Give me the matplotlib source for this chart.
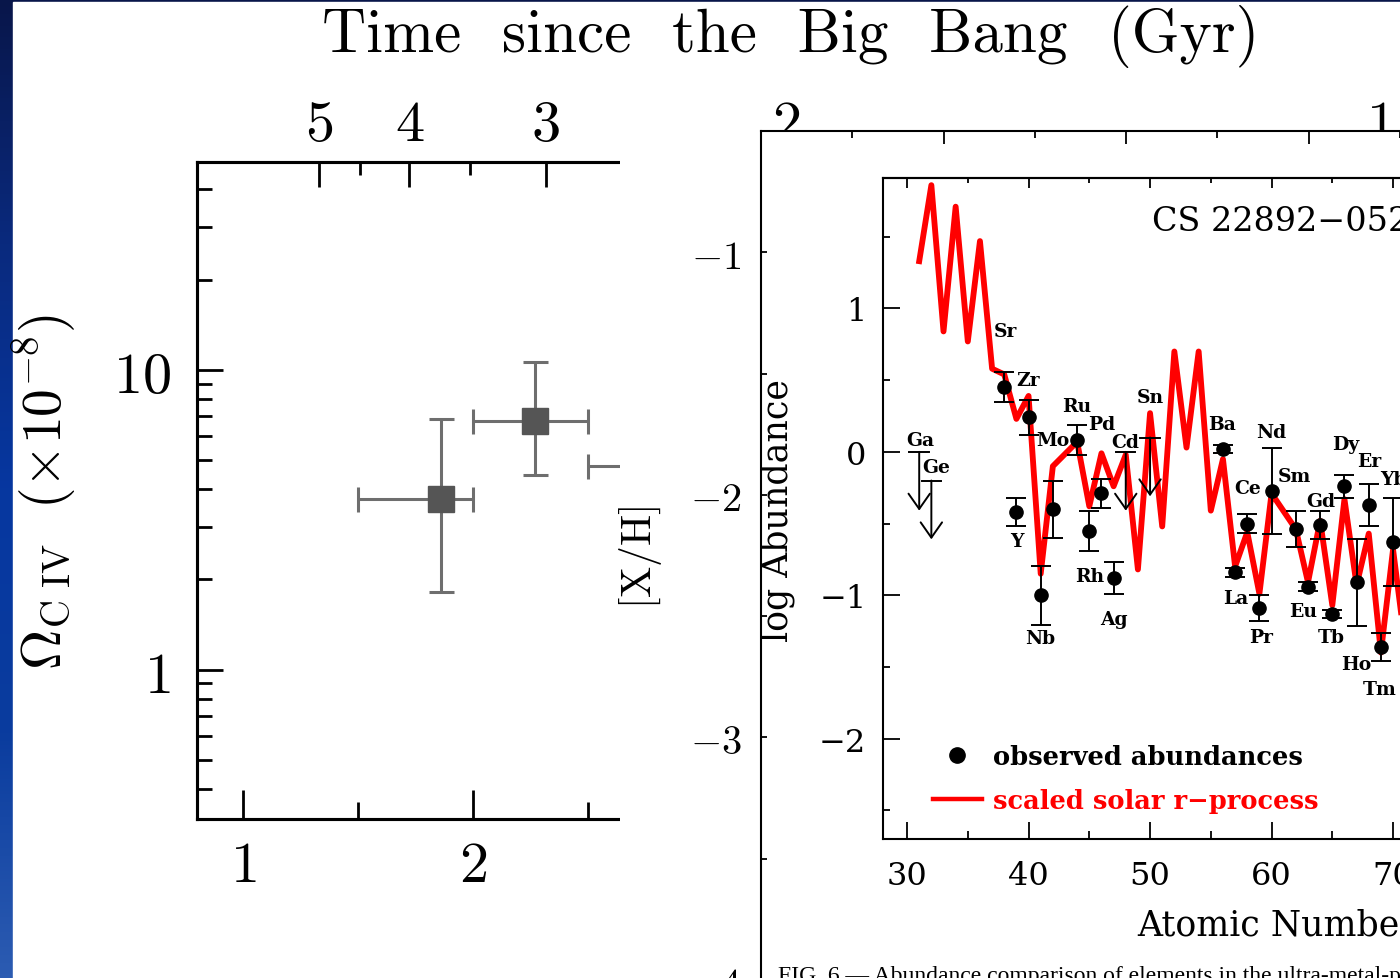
import numpy as np
import matplotlib
matplotlib.use("Agg")
import matplotlib.pyplot as plt
from matplotlib.colors import LinearSegmentedColormap
from matplotlib.lines import Line2D
from matplotlib.patches import Rectangle
from matplotlib.ticker import FixedLocator, MultipleLocator, LogLocator, NullFormatter

plt.rcParams['mathtext.fontset'] = 'cm'
plt.rcParams['axes.unicode_minus'] = True

W, H = 1400, 979

# --- C IV mass density in redshift bins ---
civ_z = [1.86, 2.27, 2.80]
civ_z_lo = [1.50, 2.00, 2.50]
civ_z_hi = [2.00, 2.50, 3.10]
civ_omega = [3.72, 6.76, 4.79]
civ_omega_lo = [1.81, 4.47, 3.00]
civ_omega_hi = [6.87, 10.6, 7.40]

z_ticks = [1, 2]
age_ticks = [5, 4, 3, 2, 1]
age_minor = [4.5, 3.5, 2.5, 1.5]

# --- CS 22892-052 abundances ---
solar_Z = [31, 32, 33, 34, 35, 36, 37, 38, 39, 40, 41, 42, 44, 45, 46, 47, 48, 49,
           50, 51, 52, 53, 54, 55, 56, 57, 58, 59, 60, 62, 63, 64, 65, 66, 67, 68,
           69, 70, 71, 72]
solar_val = [1.33, 1.86, 0.84, 1.71, 0.77, 1.47, 0.58, 0.54, 0.23, 0.39, -0.85, -0.10,
             0.07, -0.38, -0.01, -0.24, -0.02, -0.82, 0.27, -0.52, 0.70, 0.03, 0.70,
             -0.41, -0.05, -0.80, -0.56, -0.99, -0.29, -0.54, -0.91, -0.48, -1.07,
             -0.33, -0.93, -0.57, -1.40, -0.68, -1.35, -0.85]

obs_el = ['Sr', 'Y', 'Zr', 'Nb', 'Mo', 'Ru', 'Rh', 'Pd', 'Ag', 'Ba', 'La', 'Ce', 'Pr',
          'Nd', 'Sm', 'Eu', 'Gd', 'Tb', 'Dy', 'Ho', 'Er', 'Tm', 'Yb']
obs_Z = [38, 39, 40, 41, 42, 44, 45, 46, 47, 56, 57, 58, 59, 60, 62, 63, 64, 65, 66,
         67, 68, 69, 70]
obs_val = [0.45, -0.42, 0.24, -1.00, -0.40, 0.085, -0.55, -0.29, -0.88, 0.02, -0.84,
           -0.50, -1.09, -0.27, -0.54, -0.94, -0.51, -1.13, -0.24, -0.91, -0.37,
           -1.36, -0.63]
obs_err = [0.105, 0.10, 0.125, 0.205, 0.20, 0.105, 0.14, 0.10, 0.11, 0.03, 0.03, 0.065,
           0.09, 0.30, 0.125, 0.03, 0.095, 0.03, 0.08, 0.305, 0.145, 0.10, 0.305]

lim_el = ['Ga', 'Ge', 'Cd', 'Sn']
lim_Z = [31, 32, 48, 50]
lim_val = [0.0, -0.20, 0.0, 0.10]
lim_drop = 0.41

# label offsets in pixels (right, up) from each point
label_offsets = {
    'Ga': (1, 12), 'Ge': (5, 14), 'Cd': (-1, 10), 'Sn': (0, 41),
    'Sr': (1, 56), 'Y': (0, -29), 'Zr': (0, 37), 'Nb': (-1, -43), 'Mo': (0, 69),
    'Ru': (0, 34), 'Rh': (0, -45), 'Pd': (0, 69), 'Ag': (0, -41), 'Ba': (-1, 25),
    'La': (1, -26), 'Ce': (0, 36), 'Pr': (2, -29), 'Nd': (0, 59), 'Sm': (-1, 53),
    'Eu': (-5, -24), 'Gd': (1, 24), 'Tb': (-1, -23), 'Dy': (1, 42), 'Ho': (0, -82),
    'Er': (0, 44), 'Tm': (-1, -42), 'Yb': (0, 63),
}

# flat LCDM, H0 = 65, Om = 0.3
H0, Om, OL = 65.0, 0.3, 0.7
T_L = 977.8 / H0 * 2.0 / (3.0 * np.sqrt(OL))


def age_of_z(z):
    return T_L * np.arcsinh(np.sqrt(OL / Om) * (1.0 + np.asarray(z)) ** -1.5)


def z_of_age(t):
    return (np.sinh(np.asarray(t, float) / T_L) / np.sqrt(OL / Om)) ** (-2.0 / 3.0) - 1.0


def px_box(x0, y0, x1, y1):
    return [x0 / W, 1 - y1 / H, (x1 - x0) / W, (y1 - y0) / H]


def mt(v):
    return r'$%s$' % ('-%g' % -v if v < 0 else '%g' % v)


fig = plt.figure(figsize=(W / 100, H / 100), dpi=100)

# slide background: blue gradient strip with white page
bg = fig.add_axes([0, 0, 1, 1], zorder=-10)
bg.axis('off')
slide = LinearSegmentedColormap.from_list(
    'slide', ['#08164a', '#0a2a7e', '#0637a0', '#0a3c9e', '#2c5cb2'])
bg.imshow(np.linspace(0, 1, 256)[:, None], aspect='auto', cmap=slide,
          extent=[0, 1, 0, 1])
bg.add_patch(Rectangle((13 / W, 0), 1, 1 - 3 / H, color='white',
                       transform=bg.transAxes))
bg.set_xlim(0, 1)
bg.set_ylim(0, 1)

# ---------------- left panel: Omega_CIV vs redshift ----------------
ax = fig.add_axes(px_box(197, 163, 1400, 820), zorder=1)
ax.patch.set_visible(False)
ax.set_yscale('log')
ax.set_xlim(0.8, 6.03)
ax.set_ylim(0.318, 49.3)

zc = np.array(civ_z)
oc = np.array(civ_omega)
ax.errorbar(zc, oc,
            xerr=[zc - np.array(civ_z_lo), np.array(civ_z_hi) - zc],
            yerr=[oc - np.array(civ_omega_lo), np.array(civ_omega_hi) - oc],
            fmt='s', color='#555555', ecolor='#6e6e6e', ms=19, elinewidth=2.2,
            capsize=9, capthick=2.2)

ax.set_xticks(z_ticks)
ax.set_xticklabels([mt(v) for v in z_ticks], fontsize=42)
ax.xaxis.set_minor_locator(MultipleLocator(0.5))
ax.set_yticks([1, 10])
ax.set_yticklabels([r'$1$', r'$10$'], fontsize=42)
ax.yaxis.set_minor_locator(LogLocator(base=10, subs=np.arange(2, 10)))
ax.yaxis.set_minor_formatter(NullFormatter())
for s in ax.spines.values():
    s.set_linewidth(2.2)
ax.tick_params(axis='x', which='major', direction='in', length=21, width=2, pad=12)
ax.tick_params(axis='x', which='minor', direction='in', length=12, width=2)
ax.tick_params(axis='y', which='major', direction='in', length=19, width=2, pad=19)
ax.tick_params(axis='y', which='minor', direction='in', length=11, width=2)

top = ax.twiny()
top.set_zorder(1)
top.set_xlim(ax.get_xlim())
top.set_xticks(z_of_age(age_ticks))
top.set_xticklabels([mt(v) for v in age_ticks], fontsize=42)
top.xaxis.set_minor_locator(FixedLocator(z_of_age(age_minor)))
top.tick_params(axis='x', which='major', direction='in', length=18, width=2, pad=7)
top.tick_params(axis='x', which='minor', direction='in', length=9, width=2)
for s in top.spines.values():
    s.set_linewidth(2.2)

fig.text(45 / W, 1 - 492 / H, r'$\Omega_{\rm C\ IV}\ \ (\times10^{-8})$',
         rotation=90, fontsize=40, ha='center', va='center')
fig.text(791 / W, 1 - 36 / H, 'Time  since  the  Big  Bang  (Gyr)',
         family='cmr10', fontsize=44, ha='center', va='center')

# white page of the second figure lying over the first
ov = fig.add_axes(px_box(620, 132, 1400, 979), zorder=2)
ov.set_xticks([])
ov.set_yticks([])
for s in ov.spines.values():
    s.set_visible(False)
ov.set_facecolor('white')

# ---------------- middle panel: [X/H] frame ----------------
mid = fig.add_axes(px_box(761, 132, 1461, 1010), zorder=3)
mid.set_facecolor('white')
mid.set_xlim(0, 700 / 182.5)
mid.set_ylim(-4.12, -0.5)
mid.xaxis.tick_top()
mid.xaxis.set_major_locator(MultipleLocator(1))
mid.xaxis.set_minor_locator(MultipleLocator(0.5))
mid.tick_params(axis='x', which='major', direction='in', length=9, width=1.3,
                labeltop=False)
mid.tick_params(axis='x', which='minor', direction='in', length=5, width=1.3)
mid.set_yticks([-1, -2, -3, -4])
mid.set_yticklabels([mt(v) for v in [-1, -2, -3, -4]], fontsize=29)
mid.yaxis.set_minor_locator(MultipleLocator(0.5))
mid.tick_params(axis='y', which='both', direction='in', length=4, width=1.3, pad=14)
for s in mid.spines.values():
    s.set_linewidth(1.5)
fig.text(640 / W, 1 - 557 / H, r'$[{\rm X/H}]$', rotation=90, fontsize=30,
         ha='center', va='center', zorder=5)
fig.text(778 / W, 1 - 966 / H,
         'FIG. 6.\u2014 Abundance comparison of elements in the ultra-metal-poor star',
         family='Liberation Serif', fontsize=17, ha='left', va='top', zorder=6)

# ---------------- inset: abundances vs atomic number ----------------
ins = fig.add_axes(px_box(883, 179, 1500, 840), zorder=4)
ins.set_facecolor('white')
ins.set_xlim(28.02, 28.02 + 617 / 12.15)
ins.set_ylim(-2.70, 1.91)

ins.plot(solar_Z, solar_val, color='red', lw=4.2, zorder=2)
ins.errorbar(obs_Z, obs_val, yerr=obs_err, fmt='o', color='black', ms=9.5,
             elinewidth=1.4, capsize=7, capthick=1.4, zorder=3)
for z, v in zip(lim_Z, lim_val):
    ins.plot([z - 0.8, z + 0.8], [v, v], color='black', lw=1.4, zorder=3)
    ins.annotate('', xy=(z, v - lim_drop), xytext=(z, v),
                 arrowprops=dict(arrowstyle='->, head_length=0.5, head_width=0.35',
                                 color='black', lw=1.4, mutation_scale=22,
                                 shrinkA=0, shrinkB=0), zorder=3)

for name, z, v in zip(lim_el + obs_el, lim_Z + obs_Z, lim_val + obs_val):
    dx, dy = label_offsets[name]
    ins.annotate(name, (z, v), xytext=(dx, dy), textcoords='offset pixels',
                 ha='center', va='center', fontsize=13.5, fontweight='bold',
                 family='DejaVu Serif', zorder=4)

ins.text(0.436, 0.935, 'CS 22892\u2212052', transform=ins.transAxes, fontsize=24,
         family='DejaVu Serif', ha='left', va='center')

handles = [Line2D([], [], marker='o', ls='none', color='black', ms=11),
           Line2D([], [], color='red', lw=3.2)]
leg = ins.legend(handles, ['observed abundances', 'scaled solar r\u2212process'],
                 loc='upper left', bbox_to_anchor=(0.081, 0.143), frameon=False,
                 prop={'family': 'DejaVu Serif', 'weight': 'bold', 'size': 18.5},
                 handlelength=1.9, handletextpad=0.45, labelspacing=0.72,
                 borderpad=0, borderaxespad=0)
leg.get_texts()[1].set_color('red')

ins.set_xticks([30, 40, 50, 60, 70])
ins.set_xticklabels(['30', '40', '50', '60', '70'], family='DejaVu Serif', fontsize=23)
ins.xaxis.set_minor_locator(MultipleLocator(5))
ins.set_yticks([-2, -1, 0, 1])
ins.set_yticklabels(['\u22122', '\u22121', '0', '1'], family='DejaVu Serif', fontsize=23)
ins.yaxis.set_minor_locator(MultipleLocator(0.5))
ins.tick_params(axis='x', which='major', direction='in', length=12, width=1.3, pad=15,
                top=False)
ins.tick_params(axis='x', which='minor', direction='in', length=6, width=1.3, top=False)
ins.tick_params(axis='y', which='major', direction='in', length=12, width=1.3, pad=12)
ins.tick_params(axis='y', which='minor', direction='in', length=5, width=1.3)
for s in ins.spines.values():
    s.set_linewidth(1.5)

sec = ins.secondary_xaxis('top')
sec.set_xticks([30, 40, 50, 60, 70])
sec.xaxis.set_minor_locator(MultipleLocator(5))
sec.tick_params(axis='x', which='major', direction='in', length=7, width=1.3,
                labeltop=False)
sec.tick_params(axis='x', which='minor', direction='in', length=3.5, width=1.3)
sec.spines['top'].set_linewidth(1.5)

ins.text(-0.170, 0.499, 'log Abundance', transform=ins.transAxes, rotation=90,
         family='DejaVu Serif', fontsize=25, ha='center', va='center')
ins.text(0.412, -0.129, 'Atomic Number', transform=ins.transAxes,
         family='DejaVu Serif', fontsize=25, ha='left', va='center')

fig.savefig('out.png', dpi=100)
